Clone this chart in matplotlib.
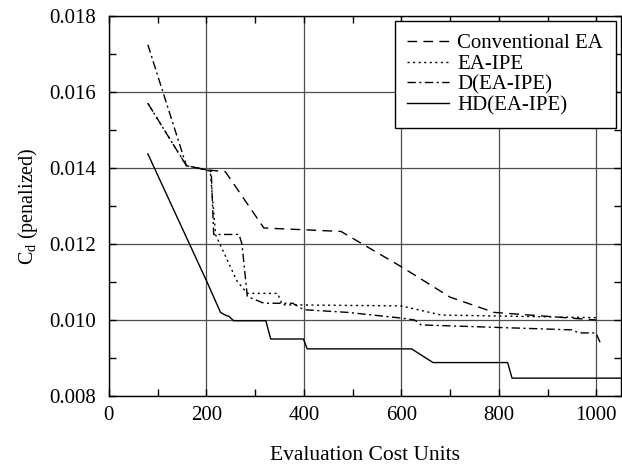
import matplotlib
matplotlib.use("Agg")
import matplotlib.pyplot as plt
from matplotlib.ticker import MultipleLocator

plt.rcParams['font.family'] = ['Liberation Serif', 'DejaVu Serif']
plt.rcParams['mathtext.fontset'] = 'custom'
plt.rcParams['mathtext.rm'] = 'Liberation Serif'
plt.rcParams['mathtext.it'] = 'Liberation Serif'

# Conventional EA
conv_x = [80, 159, 200, 239, 318, 476, 600, 700, 790, 1000]
conv_y = [0.0157, 0.01406, 0.01395, 0.0139, 0.01242, 0.01233, 0.0114, 0.0106, 0.0102, 0.0100]

# EA-IPE
ipe_x = [80, 159, 200, 208, 219, 263, 284, 346, 356, 600, 682, 1006]
ipe_y = [0.0157, 0.01406, 0.01395, 0.0139, 0.01224, 0.01102, 0.0107, 0.0107, 0.0104, 0.01037, 0.01013, 0.01006]

# D(EA-IPE)
d_x = [80, 159, 200, 210, 215, 267, 273, 284, 318, 377, 400, 490, 600, 627, 641, 950, 964, 999, 1008]
d_y = [0.01724, 0.01406, 0.01395, 0.0139, 0.01225, 0.01225, 0.0120, 0.01062, 0.01044, 0.01044, 0.01027,
       0.0102, 0.01005, 0.0100, 0.00987, 0.00974, 0.00966, 0.00966, 0.0094]

# HD(EA-IPE)
hd_x = [80, 201, 229, 240, 246, 256, 322, 332, 399, 407, 621, 665, 818, 827, 1050]
hd_y = [0.01437, 0.01101, 0.0102, 0.01012, 0.0101, 0.00998, 0.00998, 0.0095, 0.0095, 0.00924,
        0.00924, 0.00888, 0.00888, 0.00847, 0.00847]

fig = plt.figure(figsize=(6.22, 4.67), dpi=100)
ax = fig.add_axes([0.175, 0.152, 0.823, 0.814])

ax.plot(conv_x, conv_y, color='black', lw=1.0, linestyle=(0, (7, 4.5)), label='Conventional EA')
ax.plot(ipe_x, ipe_y, color='black', lw=1.0, linestyle=(0, (1.5, 2.5)), label='EA-IPE')
ax.plot(d_x, d_y, color='black', lw=1.0, linestyle=(0, (6, 2.5, 1.5, 2.5)), label='D(EA-IPE)')
ax.plot(hd_x, hd_y, color='black', lw=1.0, linestyle='-', label='HD(EA-IPE)')

ax.set_xlim(0, 1050)
ax.set_ylim(0.008, 0.018)
ax.xaxis.set_major_locator(MultipleLocator(200))
ax.xaxis.set_minor_locator(MultipleLocator(100))
ax.yaxis.set_major_locator(MultipleLocator(0.002))
ax.yaxis.set_minor_locator(MultipleLocator(0.001))
ax.yaxis.set_major_formatter(plt.FuncFormatter(lambda v, p: f"{v:.3f}"))
ax.tick_params(which='both', direction='in', top=True, right=True, labelsize=15, colors='black')
ax.tick_params(which='major', length=5, width=1)
ax.tick_params(which='minor', length=5, width=1)
ax.tick_params(axis='x', pad=7)
ax.tick_params(axis='y', pad=9)
ax.grid(True, which='major', color='0.3', lw=0.9)
for s in ax.spines.values():
    s.set_linewidth(1.0)

ax.set_xlabel('Evaluation Cost Units', fontsize=15.5, labelpad=15)
ax.set_ylabel(r'C$_\mathrm{d}$ (penalized)', fontsize=14.5, labelpad=7)

leg = ax.legend(loc='upper right', fontsize=15, handlelength=2.0, handletextpad=0.4,
                labelspacing=0.05, borderpad=0.6, fancybox=False, framealpha=1,
                edgecolor='black', borderaxespad=0.25)
leg.get_frame().set_linewidth(1.0)

fig.savefig('out.png', dpi=100)
